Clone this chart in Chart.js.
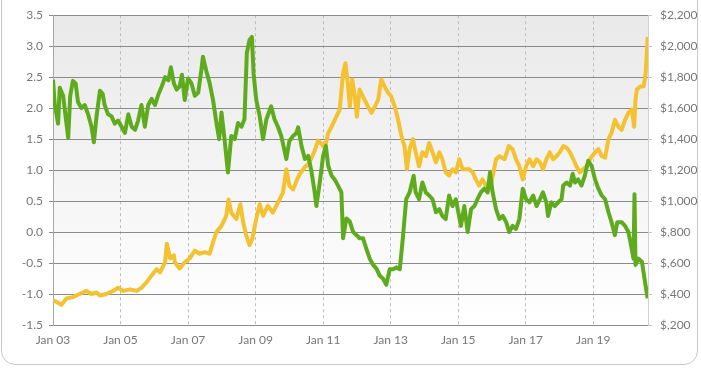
<!DOCTYPE html>
<html>
<head>
<meta charset="utf-8">
<script src="https://cdn.jsdelivr.net/npm/chart.js@4.4.1/dist/chart.umd.min.js"></script>
<style>
  html, body { margin: 0; padding: 0; background: #fff; overflow: hidden; }
  #wrap { position: relative; width: 701px; height: 370px; overflow: hidden; }
  #frame {
    position: absolute; left: 1px; top: -20px; width: 695px; height: 383px;
    border: 1px solid #c9c9c9; border-radius: 14px;
  }
  #yieldChart { position: absolute; left: 0; top: 0; }
</style>
</head>
<body>
<div id="wrap">
  <div id="frame"></div>
  <canvas id="yieldChart" width="701" height="370"></canvas>
</div>
<script>
// Real yield (left axis, %) and gold price (right axis, $), decimal years
const yieldDates = [
  2003.00, 2003.05, 2003.15, 2003.20, 2003.30, 2003.35, 2003.45, 2003.51, 2003.59, 2003.67,
  2003.74, 2003.84, 2003.94, 2004.04, 2004.14, 2004.21, 2004.29, 2004.39, 2004.47, 2004.53,
  2004.63, 2004.73, 2004.83, 2004.93, 2005.03, 2005.13, 2005.23, 2005.33, 2005.43, 2005.52,
  2005.62, 2005.72, 2005.82, 2005.92, 2006.02, 2006.12, 2006.22, 2006.32, 2006.42, 2006.49,
  2006.58, 2006.66, 2006.75, 2006.82, 2006.90, 2007.00, 2007.10, 2007.20, 2007.30, 2007.39,
  2007.44, 2007.54, 2007.64, 2007.74, 2007.84, 2007.92, 2007.99, 2008.08, 2008.18, 2008.28,
  2008.38, 2008.48, 2008.58, 2008.67, 2008.74, 2008.82, 2008.89, 2008.94, 2009.02, 2009.12,
  2009.22, 2009.32, 2009.46, 2009.56, 2009.66, 2009.76, 2009.91, 2010.00, 2010.11, 2010.21,
  2010.26, 2010.36, 2010.46, 2010.56, 2010.66, 2010.75, 2010.80, 2010.90, 2011.00, 2011.08,
  2011.15, 2011.25, 2011.34, 2011.44, 2011.54, 2011.59, 2011.69, 2011.79, 2011.89, 2011.99,
  2012.08, 2012.18, 2012.28, 2012.38, 2012.48, 2012.58, 2012.67, 2012.77, 2012.87, 2012.97,
  2013.07, 2013.17, 2013.27, 2013.36, 2013.46, 2013.56, 2013.68, 2013.74, 2013.84, 2013.94,
  2014.04, 2014.14, 2014.24, 2014.34, 2014.44, 2014.53, 2014.63, 2014.73, 2014.83, 2014.93,
  2015.08, 2015.18, 2015.28, 2015.38, 2015.48, 2015.57, 2015.67, 2015.77, 2015.87, 2015.94,
  2016.02, 2016.12, 2016.22, 2016.32, 2016.42, 2016.51, 2016.61, 2016.71, 2016.81, 2016.91,
  2017.01, 2017.11, 2017.22, 2017.32, 2017.42, 2017.51, 2017.61, 2017.66, 2017.76, 2017.86,
  2017.96, 2018.06, 2018.11, 2018.21, 2018.31, 2018.39, 2018.46, 2018.55, 2018.65, 2018.75,
  2018.85, 2018.95, 2019.05, 2019.15, 2019.25, 2019.35, 2019.45, 2019.54, 2019.64, 2019.71,
  2019.84, 2019.94, 2020.04, 2020.12, 2020.19, 2020.22, 2020.25, 2020.34, 2020.44, 2020.53,
  2020.61
];
const yieldValues = [
  2.46, 2.07, 1.75, 2.33, 2.2, 1.97, 1.52, 2.2, 2.44, 2.4,
  2.1, 2.0, 2.05, 1.9, 1.7, 1.45, 1.87, 2.28, 2.23, 2.05,
  1.9, 1.87, 1.75, 1.8, 1.7, 1.6, 1.9, 1.7, 1.65, 1.8,
  2.05, 1.7, 2.05, 2.15, 2.05, 2.22, 2.35, 2.5, 2.45, 2.66,
  2.4, 2.3, 2.35, 2.54, 2.13, 2.48, 2.4, 2.2, 2.25, 2.6,
  2.83, 2.6, 2.4, 2.13, 1.76, 1.5, 1.93, 1.5, 0.96, 1.55,
  1.5, 1.76, 1.7, 1.82, 2.89, 3.1, 3.15, 2.56, 2.13, 1.87,
  1.5, 1.82, 2.03, 1.82, 1.7, 1.55, 1.18, 1.47, 1.55, 1.6,
  1.69, 1.39, 1.18, 1.23, 0.96, 0.64, 0.42, 0.8, 1.23, 1.39,
  1.07, 0.91, 0.85, 0.75, 0.64, -0.1, 0.22, 0.17, 0.0, -0.05,
  -0.1, -0.1, -0.27, -0.43, -0.53, -0.59, -0.7, -0.75, -0.85, -0.6,
  -0.6, -0.57, -0.6, -0.1, 0.53, 0.64, 0.91, 0.64, 0.53, 0.8,
  0.64, 0.59, 0.53, 0.32, 0.37, 0.26, 0.21, 0.59, 0.42, 0.53,
  0.1, 0.42, 0.0, 0.37, 0.42, 0.53, 0.64, 0.7, 0.64, 0.96,
  0.64, 0.37, 0.21, 0.26, 0.16, 0.0, 0.1, 0.05, 0.21, 0.7,
  0.53, 0.48, 0.59, 0.42, 0.53, 0.64, 0.48, 0.26, 0.48, 0.42,
  0.48, 0.53, 0.75, 0.8, 0.75, 0.94, 0.8, 0.85, 0.75, 0.91,
  1.15, 1.07, 0.85, 0.7, 0.59, 0.53, 0.32, 0.16, -0.05, 0.16,
  0.16, 0.1, 0.0, -0.22, -0.43, 0.61, -0.53, -0.43, -0.48, -0.8,
  -1.07
];

const goldDates = [
  2003.00, 2003.10, 2003.25, 2003.40, 2003.59, 2003.79, 2003.99, 2004.14, 2004.29, 2004.39,
  2004.58, 2004.78, 2004.93, 2005.08, 2005.28, 2005.48, 2005.62, 2005.77, 2005.92, 2006.07,
  2006.17, 2006.32, 2006.37, 2006.47, 2006.58, 2006.61, 2006.75, 2006.90, 2007.05, 2007.20,
  2007.34, 2007.49, 2007.64, 2007.74, 2007.84, 2007.99, 2008.13, 2008.20, 2008.28, 2008.43,
  2008.55, 2008.63, 2008.72, 2008.82, 2008.90, 2009.00, 2009.12, 2009.22, 2009.36, 2009.51,
  2009.66, 2009.81, 2009.91, 2010.00, 2010.11, 2010.21, 2010.31, 2010.46, 2010.56, 2010.66,
  2010.75, 2010.85, 2010.95, 2011.05, 2011.15, 2011.25, 2011.39, 2011.49, 2011.59, 2011.66,
  2011.74, 2011.79, 2011.86, 2011.94, 2012.00, 2012.08, 2012.18, 2012.33, 2012.43, 2012.53,
  2012.63, 2012.72, 2012.82, 2012.92, 2013.02, 2013.12, 2013.22, 2013.32, 2013.41, 2013.48,
  2013.56, 2013.66, 2013.74, 2013.84, 2013.94, 2014.04, 2014.14, 2014.24, 2014.34, 2014.44,
  2014.53, 2014.63, 2014.73, 2014.83, 2014.93, 2015.03, 2015.13, 2015.23, 2015.33, 2015.43,
  2015.52, 2015.62, 2015.72, 2015.82, 2015.94, 2016.02, 2016.12, 2016.22, 2016.37, 2016.50,
  2016.61, 2016.71, 2016.81, 2016.91, 2017.01, 2017.11, 2017.22, 2017.32, 2017.42, 2017.51,
  2017.61, 2017.71, 2017.81, 2017.91, 2018.01, 2018.11, 2018.21, 2018.31, 2018.41, 2018.50,
  2018.60, 2018.70, 2018.80, 2018.90, 2019.05, 2019.15, 2019.25, 2019.35, 2019.45, 2019.54,
  2019.64, 2019.74, 2019.84, 2019.94, 2020.04, 2020.14, 2020.21, 2020.25, 2020.29, 2020.39,
  2020.49, 2020.55, 2020.61
];
const goldValues = [
  360, 350, 330, 372, 380, 400, 420, 400, 410, 390,
  400, 420, 440, 420, 430, 420, 440, 475, 520, 560,
  540, 605, 725, 630, 650, 605, 565, 605, 630, 680,
  660, 670, 660, 735, 800, 840, 905, 1010, 925, 885,
  980, 865, 780, 715, 755, 865, 980, 905, 970, 925,
  990, 1055, 1205, 1100, 1075, 1130, 1175, 1220, 1240, 1280,
  1325, 1390, 1370, 1340, 1440, 1480, 1545, 1590, 1825, 1890,
  1740, 1610, 1785, 1675, 1545, 1720, 1675, 1610, 1570, 1610,
  1655, 1785, 1740, 1700, 1675, 1610, 1525, 1420, 1355, 1205,
  1335, 1400, 1315, 1225, 1315, 1290, 1375, 1315, 1250, 1315,
  1270, 1185, 1165, 1205, 1185, 1270, 1205, 1205, 1205, 1185,
  1140, 1100, 1140, 1100, 1075, 1160, 1270, 1290, 1270, 1355,
  1335, 1270, 1225, 1140, 1225, 1270, 1225, 1270, 1250, 1205,
  1270, 1315, 1270, 1290, 1315, 1355, 1345, 1315, 1270, 1225,
  1185, 1205, 1225, 1270, 1315, 1335, 1290, 1280, 1400, 1440,
  1525, 1480, 1460, 1525, 1570, 1590, 1480, 1655, 1720, 1740,
  1740, 1825, 2060
];

const yearTicks = [2003, 2005, 2007, 2009, 2011, 2013, 2015, 2017, 2019];
const xMin = 2003;
const xMax = 2020.62;

function toPoints(xs, ys) {
    return xs.map((x, i) => ({ x: x, y: ys[i] }));
}

function formatDollar(v) {
    // reference prints hundreds as "$,400"
    const th = Math.floor(v / 1000);
    const rest = String(v % 1000).padStart(3, '0');
    return '$' + (th > 0 ? th : '') + ',' + rest;
}

const plotBackground = {
    id: 'plotBackground',
    beforeDraw(chart) {
        const { ctx, chartArea: a } = chart;
        const g = ctx.createLinearGradient(0, a.top, 0, a.bottom);
        g.addColorStop(0, '#e9e9e9');
        g.addColorStop(1, '#ffffff');
        ctx.save();
        ctx.fillStyle = g;
        ctx.fillRect(a.left, a.top, a.right - a.left, a.bottom - a.top);
        ctx.restore();
    }
};

const tickFont = { family: 'Lato', size: 12 };
const tickColor = '#777';

new Chart(document.getElementById('yieldChart'), {
    type: 'line',
    data: {
        datasets: [{
            label: 'Real yield',
            data: toPoints(yieldDates, yieldValues),
            yAxisID: 'y',
            borderColor: '#5fab1e',
            borderWidth: 4,
            pointRadius: 0,
            tension: 0,
            borderJoinStyle: 'round'
        }, {
            label: 'Gold',
            data: toPoints(goldDates, goldValues),
            yAxisID: 'y2',
            borderColor: '#f4c130',
            borderWidth: 4,
            pointRadius: 0,
            tension: 0,
            borderJoinStyle: 'round'
        }]
    },
    options: {
        responsive: false,
        animation: false,
        devicePixelRatio: 1,
        layout: { padding: { top: 13, left: 0, right: 0, bottom: 0 } },
        plugins: { legend: { display: false }, tooltip: { enabled: false } },
        scales: {
            x: {
                type: 'linear',
                min: xMin,
                max: xMax,
                afterBuildTicks: (scale) => { scale.ticks = yearTicks.map(v => ({ value: v })); },
                afterFit: (scale) => { scale.height = 45; },
                grid: { color: '#bdbdbd', drawTicks: false },
                border: { display: true, color: '#8c8c8c', dash: [3, 3] },
                ticks: {
                    color: tickColor, font: tickFont, padding: 8, maxRotation: 0, autoSkip: false,
                    callback: (v) => 'Jan ' + String(v).slice(2)
                }
            },
            y: {
                position: 'left',
                min: -1.5,
                max: 3.5,
                afterFit: (scale) => { scale.width = 53; },
                grid: { color: '#8a8a8a', tickLength: 4 },
                border: { color: '#a8a8a8' },
                ticks: { stepSize: 0.5, color: tickColor, font: tickFont, padding: 6, callback: (v) => v.toFixed(1) }
            },
            y2: {
                position: 'right',
                min: 200,
                max: 2200,
                afterFit: (scale) => { scale.width = 53; },
                grid: { drawOnChartArea: false, color: '#c4c4c4', tickLength: 4 },
                border: { color: '#d0d0d0' },
                ticks: { stepSize: 200, color: tickColor, font: tickFont, padding: 8, callback: (v) => formatDollar(v) }
            }
        }
    },
    plugins: [plotBackground]
});
</script>
</body>
</html>
